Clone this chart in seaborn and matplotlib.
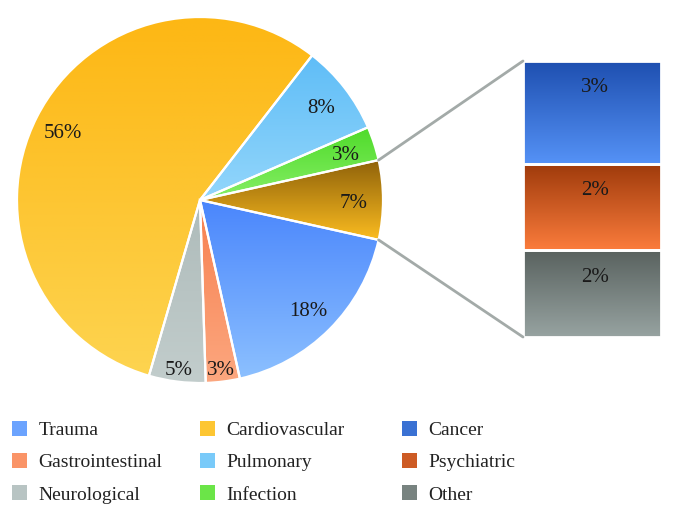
import numpy as np
import matplotlib
matplotlib.use("Agg")
import matplotlib.pyplot as plt
import seaborn as sns
from matplotlib.patches import Patch, ConnectionPatch

# pie data (counter-clockwise from the right)
pie_labels = ["Other", "Infection", "Pulmonary", "Cardiovascular",
              "Neurological", "Gastrointestinal", "Trauma"]
pie_values = [7, 3, 8, 56, 5, 3, 18]
pie_top = ["#8f620a", "#4fdb2a", "#5fbdf7", "#fdb714", "#aebbba", "#f7804f", "#4a86fc"]
pie_bottom = ["#fbbc20", "#86ee66", "#93d6fb", "#fdd450", "#c2cdcc", "#fca77f", "#8cc0ff"]

# breakdown of the "other" slice
bar_labels = ["Cancer", "Psychiatric", "Other"]
bar_values = [2.6, 2.2, 2.2]
bar_top = ["#1e4fb0", "#9e3a0b", "#59625f"]
bar_bottom = ["#5592f6", "#fb7c3c", "#97a3a1"]

legend_columns = [["Trauma", "Gastrointestinal", "Neurological"],
                  ["Cardiovascular", "Pulmonary", "Infection"],
                  ["Cancer", "Psychiatric", "Other"]]

sns.set_theme(style="white")
plt.rcParams['font.family'] = ['Liberation Serif', 'DejaVu Serif']

fig = plt.figure(figsize=(6.75, 5.2), dpi=100)
grad = np.linspace(0, 1, 256).reshape(-1, 1)


def fill_gradient(ax, patch, top, bottom, bbox):
    cmap = sns.blend_palette([top, bottom], as_cmap=True)
    x0, y0, x1, y1 = bbox
    im = ax.imshow(grad, cmap=cmap, extent=[x0, x1, y0, y1], origin='upper',
                   aspect='auto', zorder=2, interpolation='bilinear')
    im.set_clip_path(patch)


# ---------- pie ----------
ax_pie = fig.add_axes([17 / 675, (520 - 383) / 520, 366 / 675, 366 / 520])
start = -pie_values[0] / 100 * 360 / 2
wedges, texts, autotexts = ax_pie.pie(
    pie_values, startangle=start, counterclock=True,
    colors=["none"] * len(pie_values),
    autopct=lambda p: f"{p:.0f}%", pctdistance=0.84,
    wedgeprops=dict(edgecolor="white", linewidth=1.6, zorder=3),
    textprops=dict(fontsize=15, color="#1a1a1a"))
for w, t, v in zip(wedges, autotexts, pie_values):
    t.set_zorder(5)
    mid_ang = np.deg2rad((w.theta1 + w.theta2) / 2)
    # narrow slices at the bottom get their label pushed outwards
    r = 0.92 if (v <= 5 and np.sin(mid_ang) < -0.9) else 0.84
    t.set_position((r * np.cos(mid_ang), r * np.sin(mid_ang) - 0.017))
for w, top, bot in zip(wedges, pie_top, pie_bottom):
    ext = w.get_path().get_extents()
    fill_gradient(ax_pie, w, top, bot, (ext.x0, ext.y0, ext.x1, ext.y1))
ax_pie.set_xlim(-1, 1)
ax_pie.set_ylim(-1, 1)
ax_pie.set_aspect('auto')
ax_pie.axis('off')

# ---------- bar of pie ----------
ax_bar = fig.add_axes([523 / 675, (520 - 337) / 520, 138 / 675, 276 / 520])
bottoms = np.concatenate([[0], np.cumsum(bar_values)[:-1]])
bars = ax_bar.bar(0.5, bar_values, width=1, bottom=bottoms, color="none",
                  edgecolor="white", linewidth=2, zorder=3)
for b, top, bot, v in zip(bars, bar_top, bar_bottom, bar_values):
    y0 = b.get_y()
    y1 = y0 + b.get_height()
    # inverted axis: top of segment is y0
    fill_gradient(ax_bar, b, bot, top, (0, y0, 1, y1))
    ax_bar.text(0.52, y0 + 0.68, f"{v:.0f}%", ha='center', va='center',
                fontsize=15, color="#1a1a1a", zorder=5)
ax_bar.set_xlim(0, 1)
ax_bar.set_ylim(sum(bar_values), 0)
ax_bar.axis('off')

# connector lines
ang = np.deg2rad(pie_values[0] / 100 * 360 / 2)
for sgn, ybar in [(1, 0), (-1, sum(bar_values))]:
    con = ConnectionPatch(xyA=(np.cos(ang), sgn * np.sin(ang)), coordsA=ax_pie.transData,
                          xyB=(0, ybar), coordsB=ax_bar.transData,
                          color="#a3aaa8", linewidth=2)
    fig.add_artist(con)

# ---------- legend ----------
mid = {}
for lab, t, b in zip(pie_labels + bar_labels, pie_top + bar_top, pie_bottom + bar_bottom):
    mid[lab] = sns.blend_palette([t, b], 3)[1]
mid["Other"] = sns.blend_palette([bar_top[2], bar_bottom[2]], 3)[1]

for col, x_left in zip(legend_columns, [12, 200, 402]):
    handles = [Patch(facecolor=mid[l], edgecolor="none") for l in col]
    leg = fig.legend(handles, col, loc='upper left',
                     bbox_to_anchor=(x_left / 675, (520 - 421) / 520),
                     ncol=1, frameon=False, fontsize=14, borderpad=0, borderaxespad=0,
                     handlelength=0.75, handleheight=0.8, handletextpad=0.6,
                     labelspacing=0.72, labelcolor="#222222")

fig.savefig("out.png", dpi=100)
